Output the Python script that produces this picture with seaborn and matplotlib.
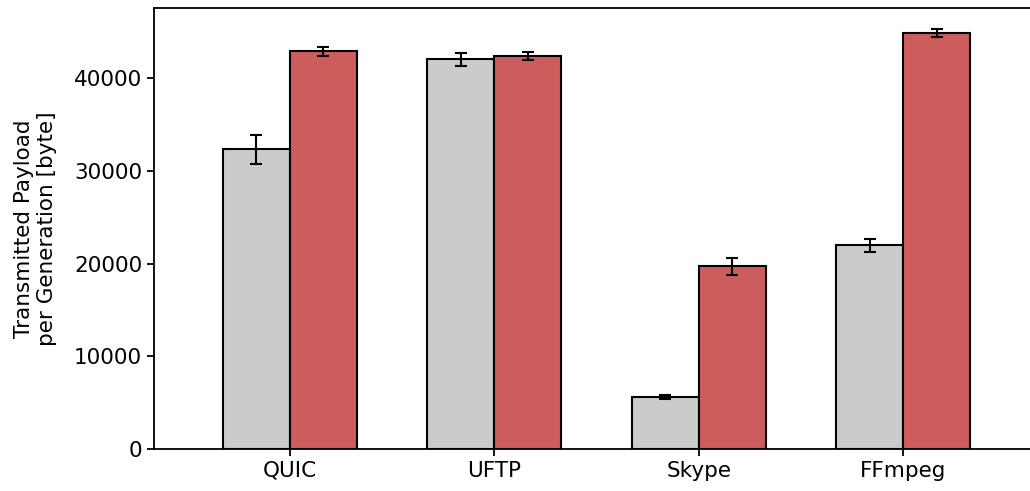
import matplotlib
matplotlib.use("Agg")
import matplotlib.pyplot as plt
import seaborn as sns
import pandas as pd

# Applications on the x axis
apps = ["QUIC", "UFTP", "Skype", "FFmpeg"]
# Two configurations compared per application
configs = ["Plain", "Coded"]

# Mean transmitted payload per generation [byte]
plain_mean = [32300, 42000, 5640, 21950]
coded_mean = [42880, 42380, 19680, 44830]
# Error-bar half-lengths [byte]
plain_err = [1600, 660, 200, 660]
coded_err = [500, 390, 950, 450]

palette = ["#cbcbcb", "#cd5c5c"]

df = pd.DataFrame({
    "app": apps * 2,
    "config": [configs[0]] * len(apps) + [configs[1]] * len(apps),
    "payload": plain_mean + coded_mean,
})

sns.set_style("ticks")
plt.rcParams["font.family"] = ["DejaVu Sans"]
plt.rcParams["font.size"] = 15.5
plt.rcParams["text.color"] = "black"
plt.rcParams["axes.labelcolor"] = "black"
plt.rcParams["xtick.color"] = "black"
plt.rcParams["ytick.color"] = "black"
plt.rcParams["axes.edgecolor"] = "black"

fig = plt.figure(figsize=(10.30, 4.91), dpi=100)
ax = fig.add_axes([0.1495, 0.0855, 0.8505, 0.8982])

sns.barplot(data=df, x="app", y="payload", hue="config", order=apps,
            hue_order=configs, palette=palette, width=0.656, errorbar=None,
            edgecolor="black", linewidth=1.5, saturation=1, legend=False, ax=ax)

# Error bars placed at the centres of the drawn bars
errs = plain_err + coded_err
means = plain_mean + coded_mean
for patch, m, e in zip(ax.patches, means, errs):
    cx = patch.get_x() + patch.get_width() / 2
    ax.errorbar(cx, m, yerr=e, fmt="none", ecolor="black",
                elinewidth=1.5, capsize=4.5, capthick=1.5, zorder=5)

ax.set_xlim(-0.665, 3.621)
ax.set_ylim(0, 47550)
ax.set_yticks([0, 10000, 20000, 30000, 40000])
ax.set_xlabel("")
ax.set_ylabel("Transmitted Payload\nper Generation [byte]", fontsize=15.5,
              labelpad=12)
ax.spines["right"].set_visible(False)
for s in ["left", "top", "bottom"]:
    ax.spines[s].set_linewidth(1.3)
ax.tick_params(axis="both", labelsize=15.5, width=1.3, length=5,
               color="black", labelcolor="black")

fig.savefig("out.png", dpi=100)
